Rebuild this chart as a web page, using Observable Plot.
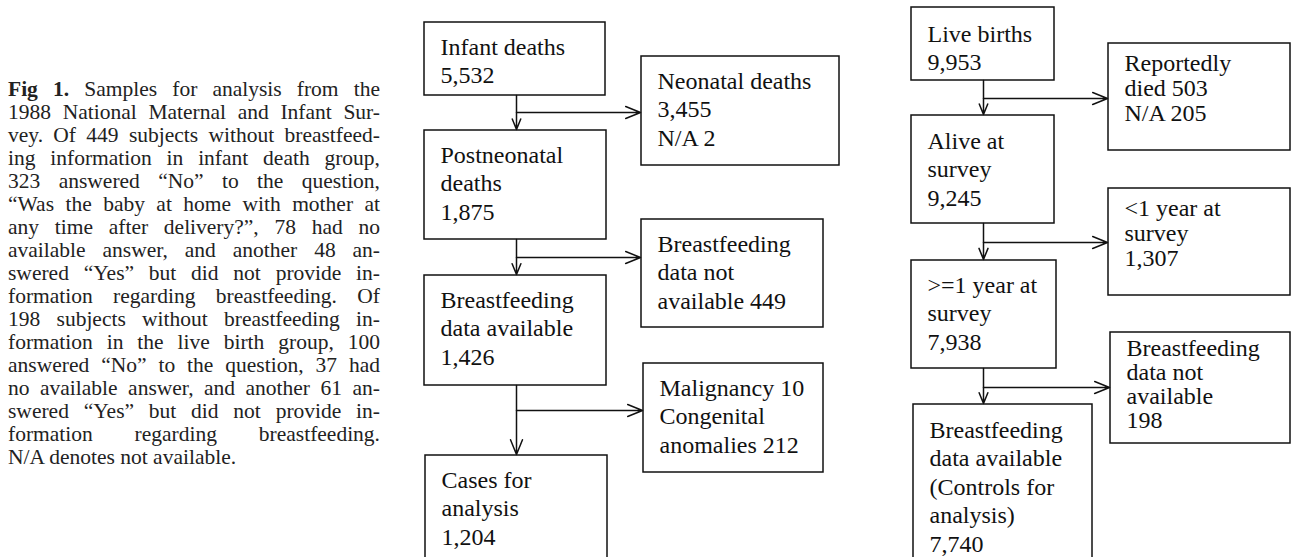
<!DOCTYPE html>
<html>
<head>
<meta charset="utf-8">
<script src="https://cdn.jsdelivr.net/npm/d3@7"></script>
<script src="https://cdn.jsdelivr.net/npm/@observablehq/plot@0.6"></script>
<style>
  html, body { margin: 0; padding: 0; background: #fff; }
  #wrap { position: relative; width: 1292px; height: 557px; overflow: hidden; }
  #caption {
    position: absolute; left: 8px; top: 78px; width: 372px;
    font-family: "Liberation Serif", "Times New Roman", serif; font-size: 21.5px; line-height: 23px; color: #222;
  }
  #caption div { text-align: justify; text-align-last: justify; }
  #caption div.last { text-align-last: left; }
  #chart { position: absolute; left: 0; top: 0; }
  #chart svg text { font-family: "Liberation Serif", "Times New Roman", serif !important; }
</style>
</head>
<body>
<div id="wrap">
  <div id="chart"></div>
  <div id="caption"></div>
</div>
<script>
// ---- Data ----
const captionLines = [
  "<b>Fig 1.</b> Samples for analysis from the",
  "1988 National Maternal and Infant Sur-",
  "vey. Of 449 subjects without breastfeed-",
  "ing information in infant death group,",
  "323 answered \u201cNo\u201d to the question,",
  "\u201cWas the baby at home with mother at",
  "any time after delivery?\u201d, 78 had no",
  "available answer, and another 48 an-",
  "swered \u201cYes\u201d but did not provide in-",
  "formation regarding breastfeeding. Of",
  "198 subjects without breastfeeding in-",
  "formation in the live birth group, 100",
  "answered \u201cNo\u201d to the question, 37 had",
  "no available answer, and another 61 an-",
  "swered \u201cYes\u201d but did not provide in-",
  "formation regarding breastfeeding.",
  "N/A denotes not available."
];

const infantSteps = ["Infant deaths", "Postneonatal\ndeaths", "Breastfeeding\ndata available", "Cases for\nanalysis"];
const infantCounts = [5532, 1875, 1426, 1204];
const infantExcluded = ["Neonatal deaths\n3,455\nN/A 2", "Breastfeeding\ndata not\navailable 449", "Malignancy 10\nCongenital\nanomalies 212"];

const birthSteps = ["Live births", "Alive at\nsurvey", ">=1 year at\nsurvey", "Breastfeeding\ndata available\n(Controls for\nanalysis)"];
const birthCounts = [9953, 9245, 7938, 7740];
const birthExcluded = ["Reportedly\ndied 503\nN/A 205", "<1 year at\nsurvey\n1,307", "Breastfeeding\ndata not\navailable\n198"];

// ---- Layout (page geometry of the flow diagram): [x1, x2, y1, y2, textTop, lineHeight] ----
const infantLayout = {
  main: [[424, 605, 22, 95, 12, 1.19], [424, 606, 130, 239, 12, 1.19], [424, 606, 275, 385, 12, 1.19], [425, 607, 455, 565, 12, 1.19]],
  excl: [[641, 839, 56, 165, 12, 1.19], [641, 823, 219, 327, 12, 1.19], [643, 823, 363, 472, 12, 1.19]],
  branchY: [112, 257, 410], stemX: 516
};
const birthLayout = {
  main: [[911, 1054, 7, 80, 14, 1.19], [911, 1054, 115, 223, 13, 1.19], [911, 1056, 260, 368, 12, 1.19], [913, 1092, 404, 565, 13, 1.19]],
  excl: [[1108, 1290, 43, 150, 10, 1.04], [1108, 1290, 188, 295, 10, 1.04], [1110, 1290, 332, 443, 6, 1.0]],
  branchY: [98, 242, 387], stemX: 983
};

// ---- Build tables ----
const fmt = d3.format(",");
const boxes = [];
const arrows = [];
function box(g, text) {
  const [x1, x2, y1, y2, t, lh] = g;
  return {x1, x2, y1, y2, ty: y1 + t, lh, text};
}
function build(steps, counts, excluded, L) {
  steps.forEach((s, i) => boxes.push(box(L.main[i], s + "\n" + fmt(counts[i]))));
  excluded.forEach((s, i) => {
    boxes.push(box(L.excl[i], s));
    arrows.push({x1: L.stemX, y1: L.main[i][3], x2: L.stemX, y2: L.main[i + 1][2] - 1});
    arrows.push({x1: L.stemX, y1: L.branchY[i], x2: L.excl[i][0] - 1, y2: L.branchY[i]});
  });
}
build(infantSteps, infantCounts, infantExcluded, infantLayout);
build(birthSteps, birthCounts, birthExcluded, birthLayout);

// ---- Caption ----
const cap = document.getElementById("caption");
captionLines.forEach((l, i) => {
  const d = document.createElement("div");
  d.innerHTML = l;
  if (i === captionLines.length - 1) d.className = "last";
  cap.appendChild(d);
});

// ---- Plot ----
const serif = "'Liberation Serif', 'Times New Roman', serif";
const lineHeights = [...new Set(boxes.map(d => d.lh))];
const chart = Plot.plot({
  width: 1292,
  height: 557,
  margin: 0,
  x: {domain: [0, 1292], range: [0, 1292], axis: null},
  y: {domain: [0, 557], range: [0, 557], axis: null},
  style: {fontFamily: serif, background: "#fff", overflow: "hidden"},
  marks: [
    Plot.rect(boxes, {x1: "x1", x2: "x2", y1: "y1", y2: "y2", fill: "white", stroke: "#111", strokeWidth: 1.5}),
    ...lineHeights.map(lh => Plot.text(boxes.filter(d => d.lh === lh), {
      x: "x1", y: "ty", text: "text", dx: 16,
      textAnchor: "start", lineAnchor: "top", lineHeight: lh,
      fontSize: 24, fontFamily: serif, fill: "#111"
    })),
    Plot.arrow(arrows, {
      x1: "x1", y1: "y1", x2: "x2", y2: "y2",
      stroke: "#111", strokeWidth: 1.5, headLength: 16, headAngle: 44
    })
  ]
});
document.getElementById("chart").appendChild(chart);
</script>
</body>
</html>
